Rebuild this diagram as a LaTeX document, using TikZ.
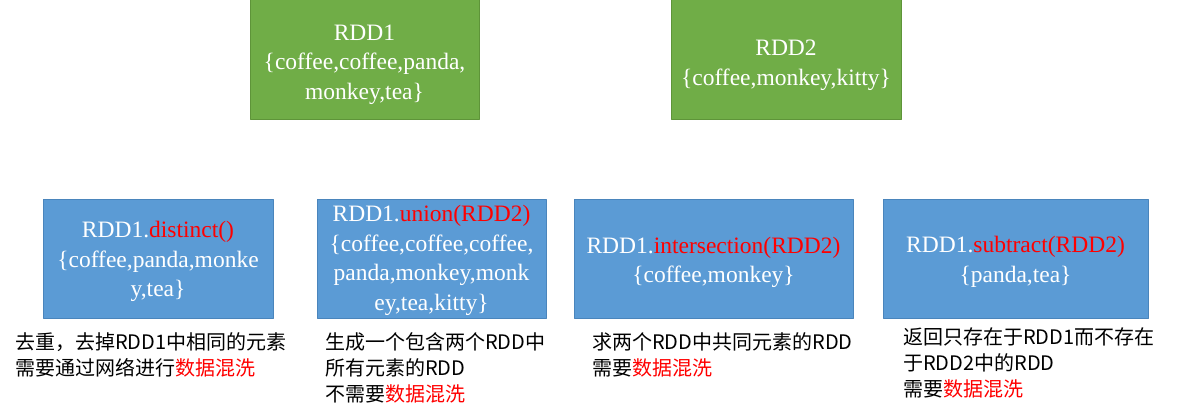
\documentclass[tikz,border=0pt]{standalone}
\usepackage{fontspec}
\setmainfont{Liberation Serif}
\newfontfamily\cjk{Noto Sans CJK SC}
\definecolor{rddgreen}{HTML}{70AD47}
\definecolor{rddgreenline}{HTML}{5E9439}
\definecolor{rddblue}{HTML}{5B9BD5}
\definecolor{rddblueline}{HTML}{4A85BC}
% invisible strut that lowers the box text a little
\newcommand{\padtop}[1]{\rule{0pt}{#1}}
\begin{document}
\begin{tikzpicture}[x=1pt, y=-1pt, line join=round,
		srcbox/.style={draw=rddgreenline, fill=rddgreen, text=white, inner sep=0pt, align=center,
			line width=0.8pt, minimum height=120pt, font=\fontsize{23.5}{29.5}\selectfont},
		opbox/.style={srcbox, draw=rddblueline, fill=rddblue, minimum height=119pt},
		note/.style={anchor=north west, inner sep=0pt, align=left, font=\cjk\fontsize{20}{26}\selectfont}]
	\useasboundingbox (0,0) rectangle (1188,416);
	% source RDDs
	\node[srcbox, minimum width=229pt] (rddA) at (364.5,59) {\padtop{27pt}RDD1\\\{coffee,coffee,panda,\\monkey,tea\}};
	\node[srcbox, minimum width=230pt] (rddB) at (786,59) {\padtop{28pt}RDD2\\\{coffee,monkey,kitty\}};
	% transformations
	\node[opbox, minimum width=230pt] (distinct) at (158,258.5) {\padtop{23pt}RDD1.\textcolor{red}{distinct()}\\\{coffee,panda,monke\\y,tea\}};
	\node[opbox, minimum width=229pt] (union) at (431.5,258.5) {\padtop{20pt}RDD1.\textcolor{red}{union(RDD2)}\\\{coffee,coffee,coffee,\\panda,monkey,monk\\ey,tea,kitty\}};
	\node[opbox, minimum width=279pt] (inter) at (713.5,258.5) {\padtop{24pt}RDD1.\textcolor{red}{intersection(RDD2)}\\\{coffee,monkey\}};
	\node[opbox, minimum width=265pt] (subtract) at (1015.5,258.5) {\padtop{23pt}RDD1.\textcolor{red}{subtract(RDD2)}\\\{panda,tea\}};
	% notes under the boxes
	\node[note] (distinctNote) at (15,332) {去重，去掉RDD1中相同的元素\\需要通过网络进行\textcolor{red}{数据混洗}};
	\node[note] (unionNote) at (325,332) {生成一个包含两个RDD中\\所有元素的RDD\\不需要\textcolor{red}{数据混洗}};
	\node[note] (interNote) at (592,332) {求两个RDD中共同元素的RDD\\需要\textcolor{red}{数据混洗}};
	\node[note] (subtractNote) at (903,327) {返回只存在于RDD1而不存在\\于RDD2中的RDD\\需要\textcolor{red}{数据混洗}};
\end{tikzpicture}
\end{document}
